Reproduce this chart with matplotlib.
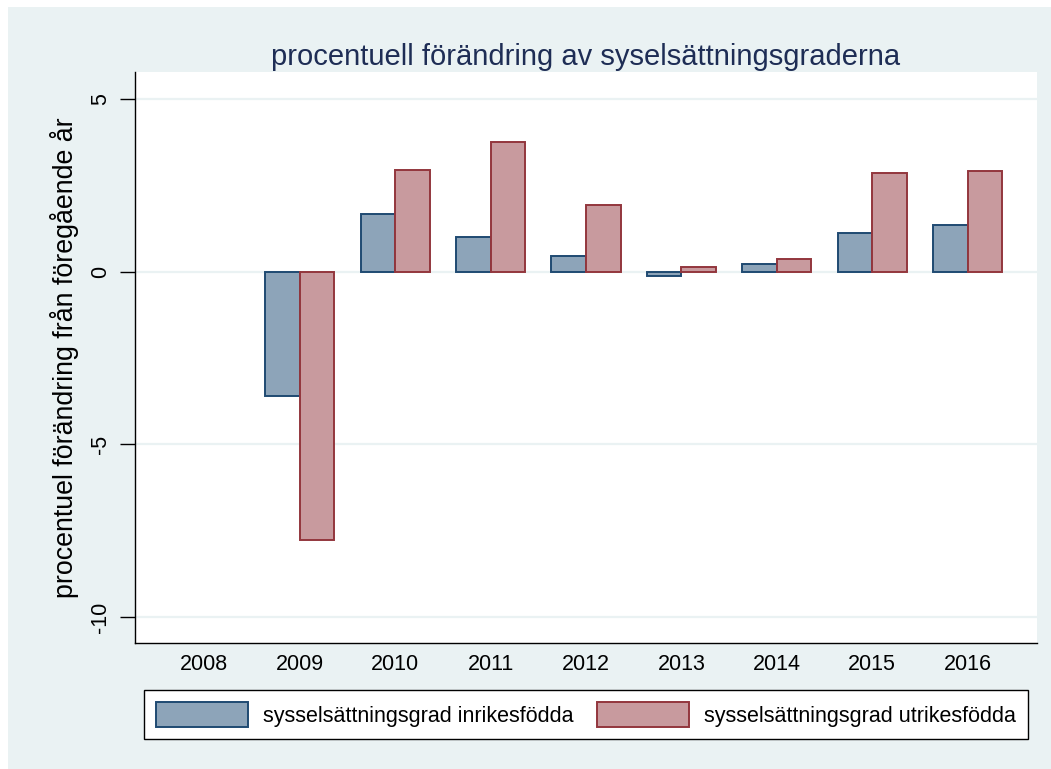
import numpy as np
import matplotlib.pyplot as plt
from matplotlib.patches import Rectangle

plt.rcParams['font.family'] = ['Liberation Sans', 'DejaVu Sans']

# data (percent change from previous year)
years = ["2008", "2009", "2010", "2011", "2012", "2013", "2014", "2015", "2016"]
inrikes = [np.nan, -3.60, 1.69, 1.00, 0.45, -0.12, 0.24, 1.12, 1.36]
utrikes = [np.nan, -7.77, 2.95, 3.76, 1.93, 0.13, 0.36, 2.85, 2.92]

bg = "#EAF2F3"
blue_fill, blue_edge = "#8DA4B9", "#1F4A72"
red_fill, red_edge = "#C89A9E", "#93363D"

fig = plt.figure(figsize=(10.51, 7.69), dpi=100, facecolor="white")
fig.patches.append(Rectangle((8 / 1051, 0), 1, 1 - 7 / 769, transform=fig.transFigure,
                             facecolor=bg, edgecolor="none", zorder=-10))

ax = fig.add_axes([135 / 1051, 1 - 643 / 769, (1037 - 135) / 1051, (643 - 72) / 769])
ax.set_facecolor("white")

x = np.arange(len(years))
w = 0.362
ax.bar(x - w / 2, inrikes, width=w, color=blue_fill, edgecolor=blue_edge, linewidth=1.4,
       label="sysselsättningsgrad inrikesfödda", zorder=3)
ax.bar(x + w / 2, utrikes, width=w, color=red_fill, edgecolor=red_edge, linewidth=1.4,
       label="sysselsättningsgrad utrikesfödda", zorder=3)

ax.set_xlim(-0.727, 8.727)
ax.set_ylim(-10.75, 5.79)
ax.set_yticks([5, 0, -5, -10])
ax.set_yticklabels(["5", "0", "-5", "-10"], rotation=90, va="center")
ax.set_xticks(x)
ax.set_xticklabels(years)
ax.tick_params(axis="x", length=0, pad=8, labelsize=15.5)
ax.tick_params(axis="y", length=11, width=1, pad=6, labelsize=15.5)
ax.grid(axis="y", color=bg, linewidth=1.6, zorder=0)
ax.set_axisbelow(True)
for s in ["top", "right"]:
    ax.spines[s].set_visible(False)
for s in ["left", "bottom"]:
    ax.spines[s].set_linewidth(1)

ax.set_ylabel("procentuel förändring från föregående år", fontsize=19.3, labelpad=8)
ax.set_title("procentuell förändring av syselsättningsgraderna", fontsize=21,
             color="#1E2D55", pad=5)

leg = fig.legend(loc="lower left", ncol=2, mode="expand",
                 bbox_to_anchor=(144 / 1051, 1 - 739 / 769, (1028 - 144) / 1051, 48 / 769),
                 bbox_transform=fig.transFigure, fontsize=15.5, frameon=True,
                 fancybox=False, edgecolor="black", facecolor="white", framealpha=1,
                 handlelength=4.3, handleheight=1.4, handletextpad=0.7,
                 borderpad=0.55, borderaxespad=0)
leg.get_frame().set_linewidth(1)

fig.savefig("out.png", dpi=100, facecolor=fig.get_facecolor())
